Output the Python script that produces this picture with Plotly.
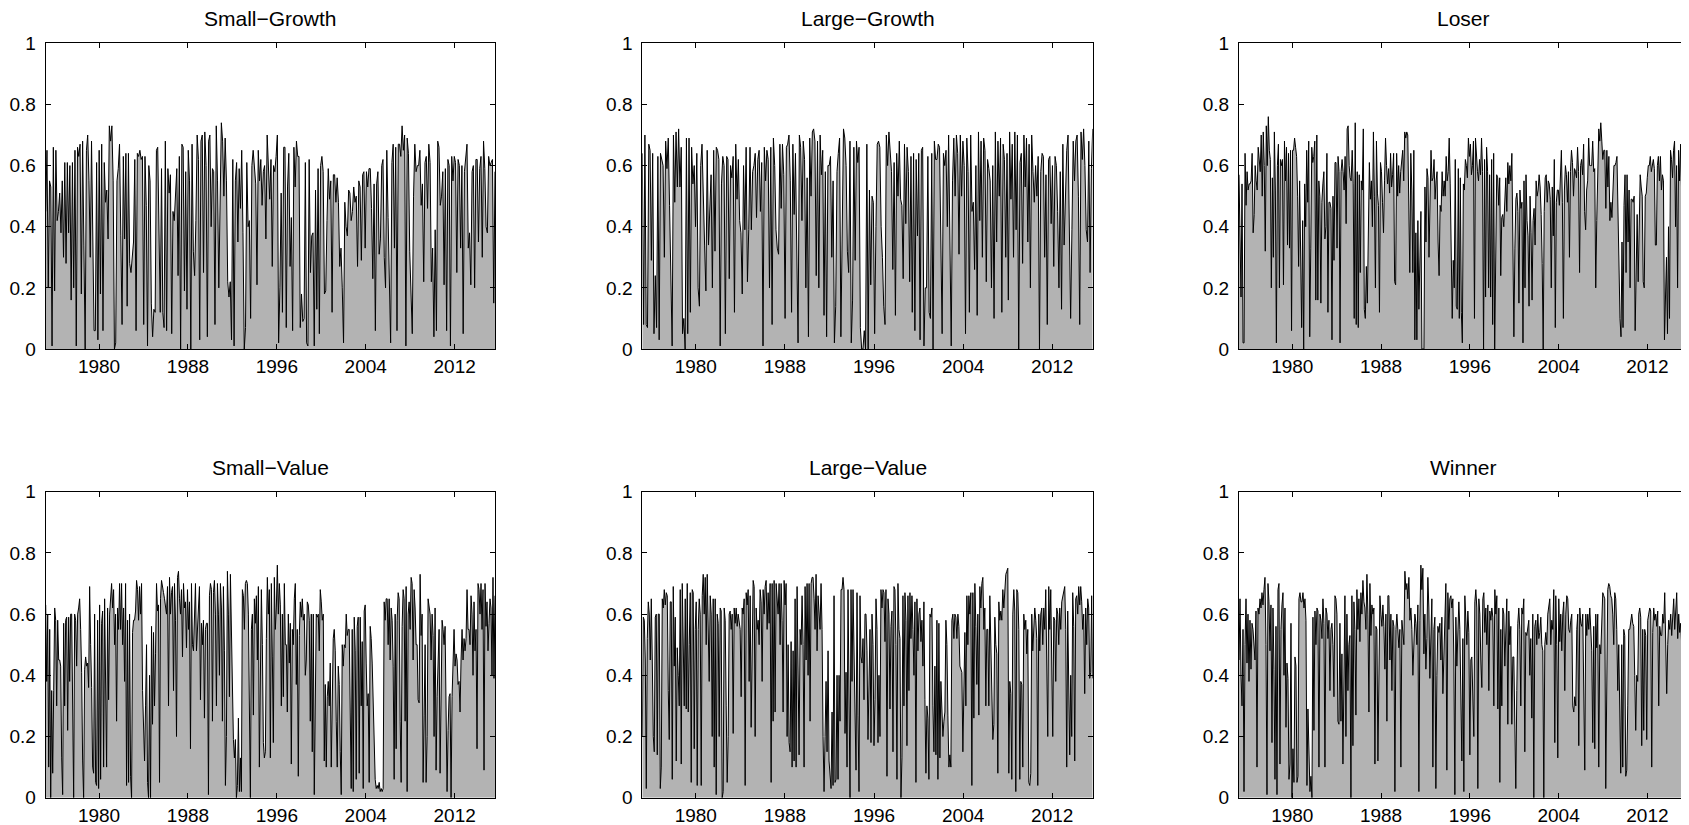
import numpy as np
import plotly.graph_objects as go

# ---------------- data (values in percent) ----------------
TITLES = ["Small\u2212Growth", "Large\u2212Growth", "Loser",
          "Small\u2212Value", "Large\u2212Value", "Winner"]
X_START = 1975.2
X_END = 2015.63
YEAR_TICKS = [1980, 1988, 1996, 2004, 2012]
Y_TICKS = [0, 0.2, 0.4, 0.6, 0.8, 1]
Y_TICK_TEXT = ["0", "0.2", "0.4", "0.6", "0.8", "1"]

small_growth = [45,65,20,55,53,1,66,19,65,42,45,51,38,55,30,61,28,61,38,60,16,61,20,65,1,66,63,67,18,68,34,0,65,70,55,30,68,30,6,6,61,3,65,18,67,6,61,48,52,36,73,68,73,55,0,2,55,59,67,37,8,63,36,64,14,64,28,25,29,35,62,6,64,63,65,62,63,8,63,47,1,60,55,15,4,13,12,65,66,30,12,59,12,7,68,6,59,51,57,5,45,42,53,59,24,63,0,67,66,19,58,13,65,55,0,67,32,24,42,70,62,3,68,70,25,71,60,4,68,70,40,59,58,8,73,55,20,50,74,68,50,69,55,22,17,22,3,62,1,55,61,35,59,46,65,38,0,7,61,40,42,10,60,65,58,54,21,65,55,62,47,58,60,36,70,
                59,49,62,27,60,58,63,70,2,20,51,12,66,66,7,53,64,27,43,6,66,53,68,63,63,7,18,9,10,61,2,1,62,25,37,38,1,52,13,59,5,60,63,58,18,19,42,59,49,55,12,57,57,48,56,48,27,33,20,2,48,40,37,52,51,42,45,53,48,50,27,55,53,29,57,58,33,58,53,59,59,46,23,54,6,54,58,31,36,60,62,30,20,65,43,25,2,61,67,33,66,6,67,67,63,73,65,70,1,69,64,32,15,5,50,67,58,60,60,65,47,54,22,61,63,46,67,61,22,33,4,39,6,68,66,47,50,58,21,59,6,62,60,1,63,55,63,61,25,62,60,33,60,5,58,62,67,33,38,21,58,60,20,62,62,35,59,63,30,68,59,40,38,63,60,61,62,15,58]

large_growth = [64,8,70,8,7,67,65,29,64,5,24,7,63,3,64,62,60,30,68,59,69,47,20,1,70,48,71,53,72,53,66,5,10,0,69,5,69,12,66,54,60,40,64,20,14,60,67,45,34,19,65,34,47,57,20,65,32,66,65,62,1,54,63,60,5,63,62,23,60,56,63,12,67,49,62,42,38,18,60,39,66,22,39,66,39,58,60,64,43,62,65,45,61,1,66,55,65,62,20,66,8,69,60,39,33,31,67,46,67,57,10,66,67,70,55,12,67,44,64,30,2,70,66,42,68,62,20,56,4,69,50,71,72,68,24,68,20,70,57,65,11,58,4,60,60,63,30,55,2,14,58,64,69,4,35,72,69,60,32,25,68,2,16,66,29,68,61,66,7,0,0,6,0,67,0,52,21,50,
                48,5,40,67,68,66,40,30,14,8,70,60,71,65,58,26,61,11,64,50,68,49,47,23,67,41,66,58,22,63,12,64,6,62,37,64,3,65,66,1,20,20,63,12,10,64,0,68,62,62,67,66,36,5,64,60,65,40,70,30,1,55,69,50,70,64,31,70,50,68,60,5,69,58,12,70,45,48,26,60,11,71,42,68,30,69,65,22,62,59,55,20,60,10,71,35,68,50,69,12,67,62,30,64,16,71,49,67,30,71,39,70,0,61,64,28,70,53,69,35,67,20,70,58,48,60,50,63,0,58,64,63,30,57,8,62,63,41,60,27,63,60,45,20,58,13,67,34,51,65,70,42,10,39,68,55,68,70,50,8,71,62,72,60,39,35,68,25,59,72]

loser = [57,38,17,54,2,2,64,47,58,52,54,54,55,64,38,44,60,55,52,66,60,58,70,50,71,60,32,73,60,76,65,62,20,56,30,71,52,2,60,67,20,62,60,62,21,68,55,66,34,64,33,65,6,65,65,69,66,63,50,27,55,20,7,42,0,54,40,65,48,68,4,33,66,61,63,68,16,70,16,55,50,15,48,54,58,36,40,64,12,48,48,46,3,50,29,61,61,33,63,58,2,58,62,58,52,63,41,72,73,60,56,55,65,54,10,74,8,58,7,57,25,55,52,72,13,10,27,15,40,61,49,55,40,71,50,20,68,51,47,12,61,58,48,38,55,69,60,54,59,51,64,53,57,64,22,21,64,50,60,51,58,63,65,55,71,69,71,70,47,25,64,52,25,65,3,38,3,42,13,38,45,0,0,0,53,35,59,56,30,49,65,55,56,62,49,55,58,35,24,47,45,58,50,55,50,63,55,58,69,54,30,10,29,20,62,14,
         13,59,10,56,12,2,54,52,62,60,56,69,63,67,57,60,68,10,69,61,58,55,62,57,69,58,0,62,17,66,58,20,57,17,62,8,64,0,40,57,56,47,56,24,43,44,40,47,56,45,61,54,60,55,64,35,4,33,49,51,45,15,52,46,48,2,55,20,57,42,37,14,50,38,16,42,46,34,55,50,52,57,53,44,28,0,45,56,57,48,55,54,49,20,53,37,62,7,48,52,52,47,56,65,48,10,52,60,57,48,58,30,58,65,61,50,59,58,56,66,58,25,60,62,57,67,45,39,52,55,69,60,60,60,68,58,59,20,42,63,72,68,74,68,62,65,65,46,65,53,63,42,48,43,50,60,60,61,63,42,33,10,4,35,7,47,57,25,57,35,52,20,49,49,48,50,6,20,44,22,37,57,53,50,22,20,50,51,56,60,60,63,58,60,62,59,34,34,60,63,55,63,52,57,55,3,16,30,5,40,10,65,62,56,65,68,40,60,20,65,55,67,51,25,56,24,54,58,61]

small_value = [63,38,60,10,55,0,35,8,35,62,58,30,58,45,45,43,13,1,57,30,58,59,22,59,38,60,60,34,0,60,58,43,60,62,65,55,41,12,0,42,46,43,44,36,69,50,36,10,8,60,5,4,58,3,63,6,57,61,10,65,38,10,62,32,60,68,70,62,68,50,60,25,62,55,70,55,70,50,62,38,70,4,58,5,60,7,0,54,58,58,61,71,68,58,69,60,70,35,23,12,30,50,5,0,40,0,56,24,54,30,47,70,61,63,5,65,71,68,67,65,63,60,69,30,72,60,67,69,35,70,58,20,72,74,65,60,68,46,70,62,64,49,68,55,64,16,70,50,48,62,70,48,55,62,69,32,57,50,58,26,55,57,57,1,66,70,68,25,67,71,60,30,70,60,40,70,62,25,69,48,4,20,74,60,33,73,55,33,19,13,19,0,4,26,2,13,2,68,66,55,70,71,70,60,13,0,55,60,27,65,57,66,45,69,10,53,68,50,18,13,15,52,72,60,
               68,13,70,46,18,72,55,62,76,60,70,63,30,60,33,70,50,50,28,60,44,57,11,55,50,65,70,37,55,7,53,64,59,65,58,60,40,45,64,63,58,25,60,15,60,1,35,60,59,60,48,68,64,58,60,12,37,10,33,38,30,44,10,43,52,55,48,25,10,43,37,15,1,50,43,50,49,60,53,55,55,28,3,55,2,59,48,6,56,59,8,59,30,51,3,61,63,44,30,34,5,56,52,44,30,14,6,3,4,3,5,2,3,2,3,64,58,65,65,50,65,45,62,58,43,6,60,16,58,67,65,25,5,56,68,65,25,69,2,60,64,55,72,70,45,68,62,50,50,32,31,73,53,60,5,27,50,5,20,65,61,60,45,60,53,20,62,9,33,49,55,8,30,58,55,50,56,15,2,22,33,34,0,33,45,55,43,47,45,37,38,28,45,55,45,52,48,52,68,55,55,50,66,60,40,64,48,55,16,70,68,60,70,55,68,9,70,56,64,48,57,65,62,40,72,39,66]

large_value = [20,59,58,45,3,52,64,60,45,65,45,20,15,59,60,14,60,60,3,10,65,62,68,63,67,66,35,19,64,64,6,69,43,59,12,49,40,30,68,11,70,55,30,65,29,70,28,50,67,5,68,67,16,55,64,4,55,65,60,4,66,73,60,72,50,73,56,38,66,60,20,65,10,65,1,60,57,20,62,61,0,2,62,58,30,5,20,60,61,55,60,21,62,57,62,56,60,57,55,33,62,60,65,4,67,63,68,38,66,23,55,71,69,20,62,55,58,50,68,64,38,68,60,69,71,55,67,57,70,5,70,25,71,28,70,64,60,70,50,70,58,28,71,63,70,20,50,18,15,51,10,48,12,65,10,69,40,14,55,50,66,50,10,69,45,70,40,70,25,70,72,72,65,55,73,48,66,60,55,70,55,20,2,20,38,15,48,12,6,3,28,4,66,5,6,40,6,40,25,68,68,72,68,21,41,10,68,15,0,68,38,68,41,28,9,67,27,2,66,46,44,52,32,60,
               60,48,19,46,55,18,60,50,17,32,65,55,18,40,20,68,62,68,67,51,68,7,65,60,29,56,61,15,69,68,50,6,70,55,52,0,13,66,30,67,58,17,66,35,67,52,66,55,40,64,5,65,48,60,62,51,58,43,64,32,8,30,26,6,60,59,62,30,15,43,14,58,6,57,13,38,24,20,25,28,58,50,27,10,14,10,58,60,52,60,59,52,60,56,43,42,41,15,40,54,30,66,50,66,60,67,4,67,26,70,56,37,60,27,69,62,70,72,55,62,30,55,55,30,66,50,26,19,24,59,50,47,8,64,58,61,58,68,62,70,73,74,75,8,38,34,6,60,68,61,2,68,67,55,6,38,37,10,60,55,58,47,55,5,4,8,60,48,59,62,58,52,4,60,48,60,62,50,62,55,68,47,20,69,55,68,50,20,59,58,38,62,60,50,62,55,64,66,68,69,55,10,61,42,14,40,20,67,56,12,65,66,60,69,63,69,64,55,60,34,62,50,65,62,39,41,66,39]

winner = [45,65,40,30,55,2,50,65,44,60,38,58,42,57,55,50,45,61,10,62,60,65,62,67,63,68,72,50,1,70,64,48,63,18,62,42,6,56,1,68,70,11,55,63,67,40,62,23,44,39,6,11,57,0,16,5,46,43,5,7,65,67,64,64,67,62,65,58,4,29,8,2,7,0,59,22,61,50,62,61,10,60,58,52,65,57,10,62,60,52,58,35,55,57,50,33,66,65,60,25,24,57,25,47,11,48,66,20,60,35,50,53,0,66,17,64,55,27,68,55,65,51,67,60,71,64,62,55,73,60,28,70,53,63,60,62,11,56,55,12,55,66,60,56,63,56,42,60,25,66,66,45,60,35,58,56,2,55,60,53,49,55,10,58,55,50,74,68,70,65,72,58,62,55,40,55,60,57,50,63,2,58,76,68,75,47,60,42,52,72,62,39,59,65,10,55,59,3,40,56,54,57,45,59,34,50,62,70,9,67,55,65,66,62,65,45,1,59,43,55,64,
          55,38,12,52,2,66,55,50,61,54,14,45,46,35,20,64,68,62,3,65,60,45,36,65,67,54,62,50,63,35,61,58,62,59,30,68,60,66,29,62,5,55,30,62,60,43,60,65,24,61,50,56,24,46,46,24,3,35,57,62,55,30,62,60,65,15,54,53,55,58,40,52,26,60,0,56,58,50,60,52,54,59,50,48,0,50,54,50,60,64,65,50,58,55,68,18,66,50,13,65,51,60,48,60,64,35,60,66,65,55,54,58,60,30,28,33,30,55,60,17,62,57,56,60,35,9,60,53,60,55,62,55,48,18,56,16,60,49,60,10,50,47,63,67,66,65,3,45,68,70,69,66,65,60,50,67,65,55,35,50,26,8,50,10,55,53,7,9,30,55,55,58,60,57,56,40,22,40,38,60,62,59,17,55,22,55,53,19,58,60,62,61,10,54,62,58,60,56,61,30,56,53,53,60,57,67,55,34,50,58,55,60,53,62,65,55,63,67,52,60,54,57,50,23,53,60,50,45,58]

SERIES = [small_growth, large_growth, loser, small_value, large_value, winner]

# ---------------- layout geometry (screen pixels of the target) ----------------
W, H = 1689, 825
PAGE_OFFSET = 8  # default body margin of the html page
COL_X = [(45.7, 495.0), (642.3, 1092.7), (1239.0, 1687.7)]
ROW_Y = [(43.3, 349.0), (491.7, 797.7)]  # pixel top, bottom

FONT = "Liberation Sans, Arial, Helvetica, sans-serif"
FILL = "#b3b3b3"

fig = go.Figure()
annotations = []
layout = {}
for i, (title, vals) in enumerate(zip(TITLES, SERIES)):
    r, c = divmod(i, 3)
    x0, x1 = (v - PAGE_OFFSET for v in COL_X[c])
    yt, yb = (v - PAGE_OFFSET for v in ROW_Y[r])
    xd = [x0 / W, x1 / W]
    yd = [1 - yb / H, 1 - yt / H]
    k = "" if i == 0 else str(i + 1)
    y = np.array(vals, dtype=float) / 100.0
    x = np.linspace(X_START, X_END, len(y))
    fig.add_trace(go.Scatter(
        x=x, y=y, mode="lines", fill="tozeroy", fillcolor=FILL,
        line=dict(color="black", width=1), hoverinfo="skip",
        xaxis="x" + k, yaxis="y" + k, showlegend=False))
    common = dict(showline=True, linecolor="black", linewidth=1, mirror="ticks",
                  ticks="inside", ticklen=5, tickwidth=1, tickcolor="black",
                  showgrid=False, zeroline=False, automargin=False,
                  tickfont=dict(family=FONT, size=19, color="black"))
    layout["xaxis" + k] = dict(domain=xd, range=[X_START, X_END], anchor="y" + k,
                               tickvals=YEAR_TICKS, ticktext=[str(v) for v in YEAR_TICKS],
                               ticklabelstandoff=0, **common)
    layout["yaxis" + k] = dict(domain=yd, range=[0, 1], anchor="x" + k,
                               tickvals=Y_TICKS, ticktext=Y_TICK_TEXT,
                               ticklabelstandoff=5, **common)
    annotations.append(dict(text=title, xref="paper", yref="paper",
                            x=(xd[0] + xd[1]) / 2, y=yd[1], yshift=11,
                            xanchor="center", yanchor="bottom", showarrow=False,
                            font=dict(family=FONT, size=21, color="black")))

fig.update_layout(template="none", width=W, height=H, autosize=False,
                  margin=dict(l=0, r=0, t=0, b=0, pad=0),
                  paper_bgcolor="white", plot_bgcolor="white",
                  annotations=annotations, **layout)
fig.write_html("out.html")
